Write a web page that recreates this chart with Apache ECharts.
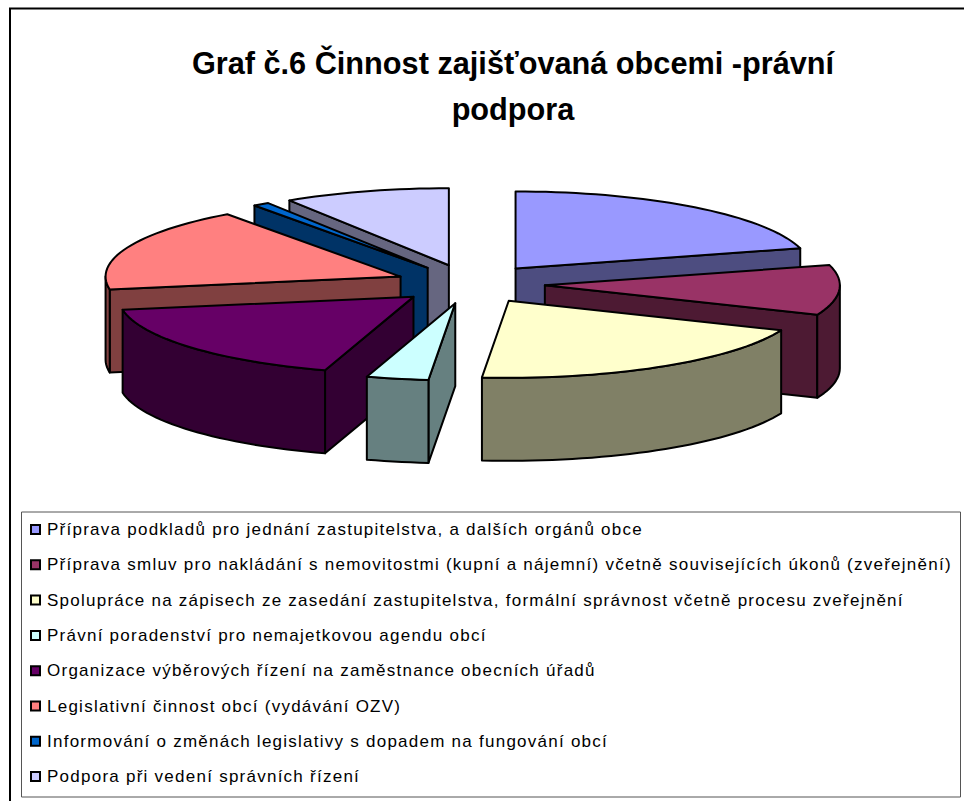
<!DOCTYPE html>
<html>
<head>
<meta charset="utf-8">
<style>
html,body{margin:0;padding:0;background:#fff}
#c{width:964px;height:801px}
#c svg text[style*="17px"]{letter-spacing:1.25px}
</style>
<script src="https://cdn.jsdelivr.net/npm/echarts@6/dist/echarts.min.js"></script>
</head>
<body>
<div id="c"></div>
<script>
const titleText = 'Graf č.6 Činnost zajišťovaná obcemi -právní\npodpora';
const categories = [
  'Příprava podkladů pro jednání zastupitelstva, a dalších orgánů obce',
  'Příprava smluv pro nakládání s nemovitostmi (kupní a nájemní) včetně souvisejících úkonů (zveřejnění)',
  'Spolupráce na zápisech ze zasedání zastupitelstva, formální správnost včetně procesu zveřejnění',
  'Právní poradenství pro nemajetkovou agendu obcí',
  'Organizace výběrových řízení na zaměstnance obecních úřadů',
  'Legislativní činnost obcí (vydávání OZV)',
  'Informování o změnách legislativy s dopadem na fungování obcí',
  'Podpora při vedení správních řízení'
];
const values = [20.8, 10.5, 20.2, 3.4, 17.5, 17.7, 0.9, 9.1];
const topColors = ['#9999FF', '#993366', '#FFFFCC', '#CCFFFF', '#660066', '#FF8080', '#0066CC', '#CCCCFF'];
const wallColors = ['#4D4D80', '#4D1A33', '#808066', '#668080', '#330033', '#804040', '#003366', '#666680'];

// 3D pie projection
const CX = 470, CY = 284, RX = 295, RY = 77, DEPTH = 83, EXPLODE = 75;
const rad = d => d * Math.PI / 180;

function point(apex, deg, drop) {
  return [apex[0] + RX * Math.sin(rad(deg)), apex[1] - RY * Math.cos(rad(deg)) + drop];
}
function arc(apex, a, b, drop) {
  const pts = [], n = Math.max(2, Math.ceil((b - a) / 2));
  for (let i = 0; i <= n; i++) pts.push(point(apex, a + (b - a) * i / n, drop));
  return pts;
}
function poly(points, fill) {
  return {
    type: 'polygon',
    shape: { points },
    style: { fill, stroke: '#000', lineWidth: 2, lineJoin: 'round' }
  };
}
function renderSlice(params, api) {
  const a = api.value(0), b = api.value(1), i = api.value(2);
  const mid = (a + b) / 2;
  const apex = [CX + EXPLODE * Math.sin(rad(mid)), CY - EXPLODE * RY / RX * Math.cos(rad(mid))];
  const wall = wallColors[i], children = [];
  const radial = deg => {
    const p = point(apex, deg, 0);
    return poly([apex, p, [p[0], p[1] + DEPTH], [apex[0], apex[1] + DEPTH]], wall);
  };
  if (Math.sin(rad(a)) < 0) children.push(radial(a));
  if (Math.sin(rad(b)) > 0) children.push(radial(b));
  const fa = Math.max(a, 90), fb = Math.min(b, 270);
  if (fb > fa) {
    children.push(poly(arc(apex, fa, fb, 0).concat(arc(apex, fa, fb, DEPTH).reverse()), wall));
  }
  children.push(poly([apex].concat(arc(apex, a, b, 0)), topColors[i]));
  return { type: 'group', children };
}

const total = values.reduce((s, v) => s + v, 0);
let acc = 0;
const slices = values.map((v, i) => {
  const start = acc / total * 360;
  acc += v;
  return { i, start, end: acc / total * 360 };
});
// back slices are painted first
const paintOrder = slices.slice().sort((p, q) =>
  -Math.cos(rad((p.start + p.end) / 2)) + Math.cos(rad((q.start + q.end) / 2)));

const series = paintOrder.map((s, k) => ({
  type: 'custom',
  name: categories[s.i],
  coordinateSystem: 'none',
  renderItem: renderSlice,
  z: 2 + k,
  silent: true,
  itemStyle: { color: topColors[s.i] },
  data: [[s.start, s.end, s.i]]
}));

const chart = echarts.init(document.getElementById('c'), null, { renderer: 'svg' });
chart.setOption({
  animation: false,
  backgroundColor: '#fff',
  title: {
    text: titleText,
    left: 508,
    top: 35,
    textAlign: 'center',
    textStyle: { fontFamily: 'Liberation Sans', fontWeight: 'bold', fontSize: 30.7, lineHeight: 46, color: '#000' }
  },
  legend: {
    data: categories,
    orient: 'vertical',
    left: 30,
    top: 521,
    padding: 0,
    icon: 'rect',
    itemWidth: 9,
    itemHeight: 9,
    itemGap: 18.3,
    selectedMode: false,
    itemStyle: { borderColor: '#000', borderWidth: 2 },
    textStyle: { fontFamily: 'Liberation Sans', fontSize: 17, color: '#000', padding: [0, 0, 0, 2] }
  },
  graphic: [
    { type: 'polyline', z: 1, shape: { points: [[10, 801], [10, 8.5], [964, 8.5]] }, style: { fill: null, stroke: '#000', lineWidth: 2 } },
    { type: 'rect', z: 1, shape: { x: 21.5, y: 512, width: 939, height: 285 }, style: { fill: '#fff', stroke: '#555', lineWidth: 1 } }
  ],
  series
});
</script>
</body>
</html>
